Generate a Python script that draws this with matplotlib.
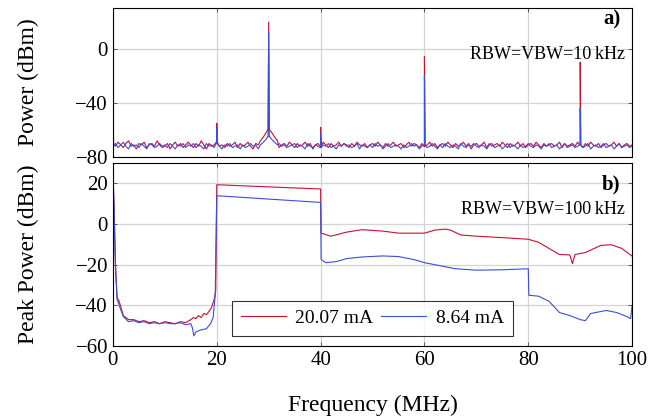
import numpy as np
import matplotlib
matplotlib.use('Agg')
import matplotlib.pyplot as plt

plt.rcParams['font.family'] = ['Liberation Serif', 'DejaVu Serif']

# colores de las dos corrientes
c_red = '#c8102e'
c_blue = '#3a4ed8'
labels = ['20.07 mA', '8.64 mA']

# --- panel a): espectro RBW=VBW=10 kHz, ruido cada 0.5 MHz ---
noise_red = [
    -70, -72, -69, -71, -73, -70, -68, -72, -71, -74,
    -70, -71, -69, -73, -71, -70, -72, -68, -71, -73,
    -72, -70, -74, -71, -69, -72, -70, -73, -71, -69,
    -71, -73, -70, -72, -68, -71, -74, -70, -72, -71,
    -69, -72, -71, -73, -70, -72, -71, -69, -73, -70,
    -72, -71, -69, -72, -74, -70, -71, -72, -70, -73,
    -71, -69, -72, -70, -73, -71, -70, -72, -69, -71,
    -73, -70, -72, -71, -69, -72, -70, -74, -71, -70,
    -72, -69, -71, -73, -70, -72, -71, -69, -72, -70,
    -71, -73, -70, -72, -69, -71, -72, -70, -73, -71,
    -70, -72, -69, -71, -73, -70, -72, -71, -69, -72,
    -71, -70, -73, -71, -69, -72, -70, -71, -73, -70,
    -72, -71, -69, -72, -70, -73, -71, -70, -72, -69,
    -71, -73, -70, -72, -71, -69, -72, -70, -74, -71,
    -70, -72, -71, -69, -73, -70, -72, -71, -70, -72,
    -69, -71, -73, -70, -72, -71, -69, -72, -70, -73,
    -71, -70, -72, -69, -71, -73, -70, -72, -71, -70,
    -72, -71, -69, -73, -70, -72, -71, -70, -72, -69,
    -71, -73, -70, -72, -69, -71, -72, -70, -73, -71,
    -70, -72, -71, -69, -72, -70, -73, -71, -70, -72,
    -71]
noise_blue = [
    -72, -70, -73, -71, -69, -72, -74, -70, -72, -71,
    -73, -70, -72, -74, -70, -71, -73, -72, -70, -72,
    -71, -73, -70, -72, -74, -71, -72, -70, -73, -71,
    -72, -70, -73, -71, -72, -74, -70, -72, -71, -73,
    -70, -72, -74, -71, -72, -70, -73, -72, -71, -74,
    -71, -73, -72, -70, -72, -71, -74, -72, -73, -70,
    -72, -74, -71, -73, -70, -72, -71, -73, -72, -71,
    -70, -73, -71, -72, -74, -70, -72, -73, -71, -72,
    -73, -71, -72, -70, -73, -72, -74, -71, -72, -70,
    -72, -71, -73, -72, -70, -74, -71, -72, -73, -71,
    -73, -70, -72, -71, -74, -72, -70, -73, -72, -71,
    -72, -74, -71, -73, -72, -70, -72, -71, -74, -72,
    -71, -73, -72, -70, -72, -74, -71, -73, -70, -72,
    -73, -71, -72, -74, -70, -72, -73, -71, -72, -70,
    -72, -73, -71, -72, -74, -71, -70, -73, -72, -71,
    -74, -72, -70, -73, -71, -72, -74, -71, -73, -72,
    -70, -72, -73, -71, -72, -74, -71, -72, -70, -73,
    -72, -71, -74, -72, -70, -73, -72, -71, -73, -72,
    -71, -73, -72, -70, -74, -72, -71, -73, -72, -70,
    -73, -72, -71, -74, -72, -70, -73, -72, -71, -73,
    -72]
f_noise = np.arange(len(noise_red)) * 0.5

# picos (armónicos) y hombro alrededor de 30 MHz
peak_f = [0.0, 20, 30, 40, 60, 90]
peak_red = [-30, -55, 19.5, -58, -6, -10]
peak_blue = [-17, -59, 12, -62.5, -20, -44]
shoulder_f = [28.4, 29.0, 29.5, 29.8, 30.2, 30.6, 31.1, 31.7]
shoulder_red = [-68, -65, -62, -60, -60, -62, -65, -68]
shoulder_blue = [-71, -69, -67, -65, -65, -67, -69, -71]

# --- panel b): potencia de pico RBW=VBW=100 kHz ---
fb_red = [0, 0.2, 0.5, 0.8, 1.2, 2, 3, 4, 5, 6, 7, 8, 9, 10, 11, 12, 13, 14,
          15, 15.5, 16, 16.5, 17, 17.5, 18, 18.5, 19, 19.5, 19.8, 20,
          40, 40.1, 42, 45, 48, 52, 55, 60, 62, 64, 65, 67, 70, 75, 80,
          82, 84, 86, 88, 88.5, 89, 91, 94, 96, 98, 100]
pb_red = [25, 10, -20, -36, -38, -45, -47, -47, -48, -47.5, -48.5, -48, -49,
          -48, -48.5, -49, -48, -48.5, -47, -46, -46.5, -45, -46, -44, -44.5,
          -43, -41, -37, -33, 19.3,
          17.2, -4.5, -6, -4, -2.8, -3.5, -4.5, -4.5, -3, -2.5, -3, -5.4, -6,
          -6.7, -7.5, -9, -12, -15, -15.2, -19.5, -15, -14, -10.5, -10.2,
          -12, -15.8]
fb_blue = [0, 0.2, 0.5, 0.8, 1.2, 2, 3, 4, 5, 6, 7, 8, 9, 10, 11, 12, 13, 14,
           15, 15.3, 15.6, 16, 17, 18, 18.8, 19.3, 19.7, 20,
           40, 40.1, 41, 43, 45, 48, 52, 55, 58, 60, 63, 66, 70, 75, 80,
           80.1, 82, 84, 86, 88, 90, 91, 92, 95, 97, 99, 99.7, 100]
pb_blue = [25, 10, -22, -37, -40, -45.5, -48, -47.5, -48.5, -48, -49, -48.5,
           -49, -48.5, -49, -49, -48.5, -49.5, -49, -51, -55, -53, -52, -51.5,
           -49, -46, -35, 13.9,
           10.6, -17.4, -19, -18.5, -17, -16.2, -15.7, -16, -17.5, -19,
           -20.5, -22, -22.7, -22.5, -22,
           -35, -35.5, -38, -43.5, -45, -47, -47.5, -44, -42.5, -43.5, -45.5,
           -46.5, -40]


def espectro(noise, peaks, shoulder):
    # une ruido, hombro y picos en una sola traza ordenada
    fn = np.array(f_noise)
    pn = np.array(noise, dtype=float)
    fuera = (fn < shoulder_f[0]) | (fn > shoulder_f[-1])
    f = list(fn[fuera]) + list(shoulder_f)
    p = list(pn[fuera]) + list(shoulder)
    base_f = np.array(f)
    base_p = np.array(p)
    idx = np.argsort(base_f)
    base_f, base_p = base_f[idx], base_p[idx]
    for fp, val in zip(peak_f, peaks):
        b = np.interp(fp, base_f, base_p)
        f += [fp - 0.12, fp, fp + 0.12]
        p += [b, val, b]
    f = np.array(f)
    p = np.array(p)
    idx = np.argsort(f, kind='stable')
    f, p = f[idx], p[idx]
    keep = f >= 0
    return f[keep], p[keep]


fig = plt.figure(figsize=(6.49, 4.20), dpi=100)
ax1 = fig.add_axes([0.174, 0.626, 0.800, 0.355])
ax2 = fig.add_axes([0.174, 0.176, 0.800, 0.436])

fr, pr = espectro(noise_red, peak_red, shoulder_red)
fbl, pbl = espectro(noise_blue, peak_blue, shoulder_blue)
ax1.plot(fr, pr, color=c_red, lw=0.8)
ax1.plot(fbl, pbl, color=c_blue, lw=0.8)

ax2.plot(fb_red, pb_red, color=c_red, lw=0.8, label=labels[0])
ax2.plot(fb_blue, pb_blue, color=c_blue, lw=0.8, label=labels[1])

for ax in (ax1, ax2):
    ax.set_xlim(0, 100)
    ax.set_xticks(np.arange(0, 101, 20))
    ax.grid(True, color='#d4d4d4', lw=0.9)
    ax.set_axisbelow(True)
    ax.tick_params(direction='in', length=3, top=True, right=True,
                   labelsize=15, width=0.6, color='#444444')
    for s in ax.spines.values():
        s.set_linewidth(0.8)

ax1.set_ylim(-80, 30)
ax1.set_yticks([-80, -40, 0])
ax1.tick_params(labelbottom=False)
ax2.set_ylim(-60, 30)
ax2.set_yticks([-60, -40, -20, 0, 20])

ax1.set_ylabel('Power (dBm)', fontsize=17)
ax1.yaxis.set_label_coords(-0.143, 0.5)
ax2.set_ylabel('Peak Power (dBm)', fontsize=17)
ax2.yaxis.set_label_coords(-0.143, 0.5)
ax2.set_xlabel('Frequency (MHz)', fontsize=17)
ax2.xaxis.set_label_coords(0.5, -0.265)

ax1.text(0.978, 0.92, 'a)', transform=ax1.transAxes, ha='right', va='center',
         fontsize=15, fontweight='bold')
ax1.text(0.986, 0.69, 'RBW=VBW=10\u2009kHz', transform=ax1.transAxes,
         ha='right', va='center', fontsize=13)
ax2.text(0.978, 0.885, 'b)', transform=ax2.transAxes, ha='right', va='center',
         fontsize=15, fontweight='bold')
ax2.text(0.986, 0.745, 'RBW=VBW=100\u2009kHz', transform=ax2.transAxes,
         ha='right', va='center', fontsize=13)

leg = ax2.legend(loc='lower center', bbox_to_anchor=(0.5, 0.055), ncol=2,
                 fontsize=14, frameon=True, fancybox=False, edgecolor='black',
                 handlelength=2.3, columnspacing=0.4, handletextpad=0.5,
                 borderpad=0.45, borderaxespad=0)
leg.get_frame().set_linewidth(0.8)

fig.savefig('out.png', dpi=100)
